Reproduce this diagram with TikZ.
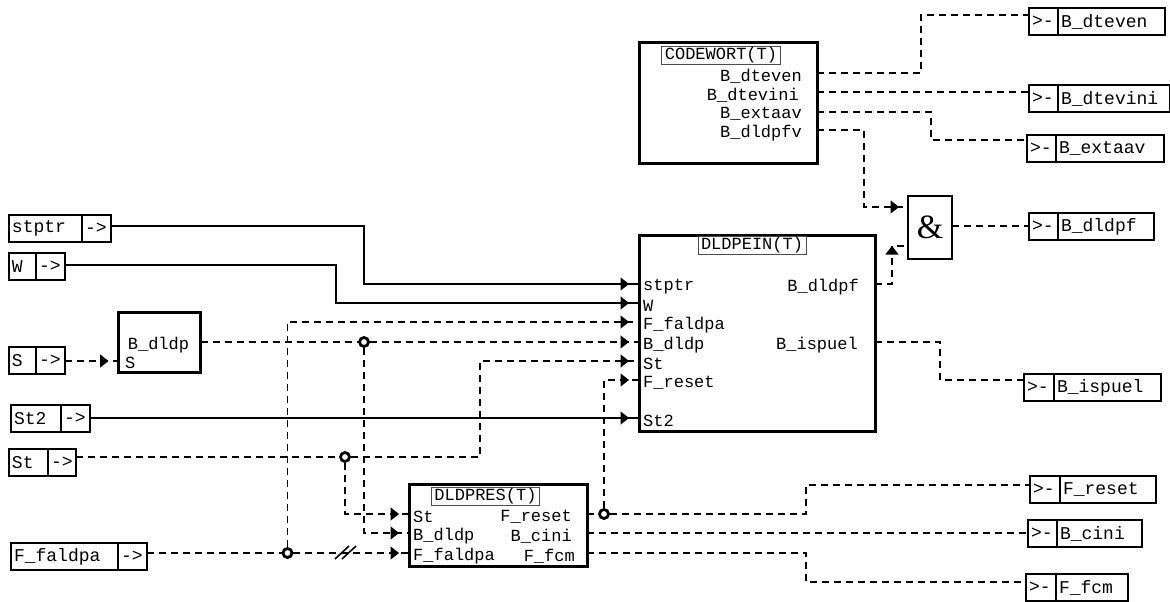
\documentclass[tikz,border=0pt]{standalone}
\usepackage{fontspec}
\setmainfont{Liberation Serif}
\setmonofont{Liberation Mono}
\usetikzlibrary{arrows.meta, positioning, decorations.markings}
\tikzset{
  celda/.style={
    draw=black, line width=1.6pt, inner ysep=0pt, inner xsep=3pt, outer sep=0pt,
    minimum height=27pt, align=left, fill=white,
    font=\fontsize{18}{18}\ttfamily
  },
  bloque/.style={draw=black, line width=3pt, inner sep=0pt, outer sep=0pt, anchor=north west},
  titulo/.style={draw=black!70, line width=0.9pt, inner sep=0pt, inner xsep=3pt,
    minimum height=18pt, font=\fontsize{17}{17}\ttfamily},
  puerto/.style={inner sep=0pt, font=\fontsize{17}{17}\ttfamily},
  union/.style={circle, draw=black, line width=2.8pt, inner sep=0pt, minimum size=9pt},
  senal/.style={line width=1.6pt},
  senalPunteada/.style={senal, dash pattern=on 7pt off 5pt},
  flechaPuerto/.style={
    postaction={decorate},
    decoration={markings, mark=at position -#1 with {\arrow{Triangle[length=8.5pt, width=13pt]}}}
  },
  flechaPuerto/.default=10pt,
}
\begin{document}
\begin{tikzpicture}[x=1pt, y=-1pt]
  \useasboundingbox (0,0) rectangle (1170,602);

  % entradas
  \foreach \id/\texto/\x/\y/\anchoA/\anchoB/\linea in {
      stptr/stptr/9/215/73/29/226,
      W/W/9/253/27/29/265,
      S/S/9/347/27/29/361,
      StDos/St2/11/405/50/29/418,
      St/St/9/449/39/28/457,
      Faldpa/F\_faldpa/11/543/107/29/553} {
    \node[celda, anchor=north west, text width=\anchoA pt-6pt] (e\id) at (\x,\y) {\texto};
    \node[celda, right=0pt of e\id, text width=\anchoB pt-6pt] (f\id) {->};
    \coordinate (c\id) at (f\id.east |- 0,\linea);
  }

  % salidas
  \foreach \id/\texto/\x/\y/\anchoA/\anchoB/\linea in {
      Dteven/B\_dteven/1029/8/29/107/15,
      Dtevini/B\_dtevini/1029/85/29/112/92,
      Extaav/B\_extaav/1027/135/29/108/140,
      Dldpf/B\_dldpf/1029/213/29/96/226,
      Ispuel/B\_ispuel/1024/374/30/107/380,
      Reset/F\_reset/1030/476/30/96/485,
      Cini/B\_cini/1028/520/29/85/533,
      Fcm/F\_fcm/1026/574/30/72/582} {
    \node[celda, anchor=north west, text width=\anchoA pt-6pt] (a\id) at (\x,\y) {>-};
    \node[celda, right=0pt of a\id, text width=\anchoB pt-6pt] (s\id) {\texto};
    \coordinate (o\id) at (a\id.west |- 0,\linea);
  }

  % bloques
  \node[bloque, minimum width=178pt, minimum height=120pt] (codewort) at (639,43) {};
  \node[titulo] (tCodewort) at (721,55) {CODEWORT(T)};
  \node[bloque, minimum width=236pt, minimum height=196pt] (dldpein) at (639,235) {};
  \node[titulo] (tDldpein) at (752,245.5) {DLDPEIN(T)};
  \node[bloque, minimum width=82pt, minimum height=60pt] (dldp) at (118.5,312) {};
  \node[bloque, minimum width=178pt, minimum height=82pt] (dldpres) at (409,484) {};
  \node[titulo] (tDldpres) at (485.5,496.5) {DLDPRES(T)};
  \node[draw=black, line width=1.8pt, inner sep=0pt, outer sep=0pt, anchor=north west,
    minimum width=44pt, minimum height=63pt, font=\fontsize{34}{34}\selectfont] (yBloque) at (908,196) {\raisebox{-3pt}{\&}};

  % puertos de los bloques
  \foreach \id/\texto/\y in {
      stptr/stptr/284, W/W/303, Faldpa/F\_faldpa/322, Dldp/B\_dldp/342,
      St/St/361, Reset/F\_reset/380, StDos/St2/418} {
    \coordinate (p\id) at (639,\y);
    \node[puerto, anchor=west] (l\id) at (643,\y+3) {\texto};
  }
  \foreach \id/\texto/\y in {St/St/514, Dldp/B\_dldp/533, Faldpa/F\_faldpa/553} {
    \coordinate (r\id) at (409,\y);
    \node[puerto, anchor=west] (m\id) at (413,\y+3) {\texto};
  }
  \foreach \id/\texto/\xfin/\ytxt/\y in {
      Dteven/B\_dteven/802/76/73, Dtevini/B\_dtevini/799/95/92,
      Extaav/B\_extaav/802/114/112, Dldpfv/B\_dldpfv/802/133/130} {
    \coordinate (q\id) at (817,\y);
    \node[puerto, anchor=east] (n\id) at (\xfin,\ytxt) {\texto};
  }
  \foreach \id/\texto/\xfin/\y in {
      Reset/F\_reset/572/514, Cini/B\_cini/572/533, Fcm/F\_fcm/575/553} {
    \coordinate (u\id) at (587,\y);
    \node[puerto, anchor=east] (v\id) at (\xfin,\y+3) {\texto};
  }
  \node[puerto, anchor=east] (lDldpf) at (859,287) {B\_dldpf};
  \node[puerto, anchor=east] (lIspuel) at (858,345) {B\_ispuel};
  \node[puerto] (lBdldp) at (158.5,345) {B\_dldp};
  \node[puerto, anchor=west] (lS) at (125,363) {S};
  \coordinate (uDldpf) at (875,284);
  \coordinate (uIspuel) at (875,342);
  \coordinate (yEntUno) at (908,207);
  \coordinate (yEntDos) at (908,246);
  \coordinate (ySal) at (952,226);
  \coordinate (dEnt) at (118.5,361);
  \coordinate (dSal) at (200.5,342);

  % uniones
  \node[union] (jFaldpa) at (287.5,553) {};
  \node[union] (jSt) at (345,457) {};
  \node[union] (jDldp) at (364,342) {};
  \node[union] (jReset) at (604,514) {};

  % entradas hacia bloques
  \draw[senal, flechaPuerto] (cstptr) -| (364,284) -- (pstptr);
  \draw[senal, flechaPuerto] (cW) -| (336,303) -- (pW);
  \draw[senal, flechaPuerto] (cStDos) -- (pStDos);
  \draw[senalPunteada, flechaPuerto] (cS) -- (dEnt);
  \draw[senalPunteada] (cFaldpa) -- (jFaldpa.west);
  \draw[senalPunteada, flechaPuerto] (jFaldpa.east) -- (rFaldpa);
  \draw[senalPunteada, flechaPuerto] (jFaldpa.north) |- (pFaldpa);
  \draw[senalPunteada] (dSal) -- (jDldp.west);
  \draw[senalPunteada, flechaPuerto] (jDldp.east) -- (pDldp);
  \draw[senalPunteada, flechaPuerto] (jDldp.south) |- (rDldp);
  \draw[senalPunteada] (cSt) -- (jSt.west);
  \draw[senalPunteada, flechaPuerto] (jSt.east) -| (480,361) -- (pSt);
  \draw[senalPunteada, flechaPuerto] (jSt.south) |- (rSt);
  % doble barra
  \draw[senal] (335,559) -- (349,546);
  \draw[senal] (342,559) -- (356,546);

  % salidas de bloques
  \draw[senalPunteada] (uReset) -- (jReset.west);
  \draw[senalPunteada] (jReset.east) -| (806,485) -- (oReset);
  \draw[senalPunteada, flechaPuerto] (jReset.north) |- (pReset);
  \draw[senalPunteada] (uCini) -- (oCini);
  \draw[senalPunteada] (uFcm) -| (806,582) -- (oFcm);
  \draw[senalPunteada] (qDteven) -| (921,15) -- (oDteven);
  \draw[senalPunteada] (qDtevini) -- (oDtevini);
  \draw[senalPunteada] (qExtaav) -| (931,140) -- (oExtaav);
  \draw[senalPunteada, flechaPuerto=9pt] (qDldpfv) -| (864,207) -- (yEntUno);
  \draw[senalPunteada, flechaPuerto=16pt] (uDldpf) -| (892,246) -- (yEntDos);
  \draw[senalPunteada] (ySal) -- (oDldpf);
  \draw[senalPunteada] (uIspuel) -| (940,380) -- (oIspuel);
\end{tikzpicture}
\end{document}
